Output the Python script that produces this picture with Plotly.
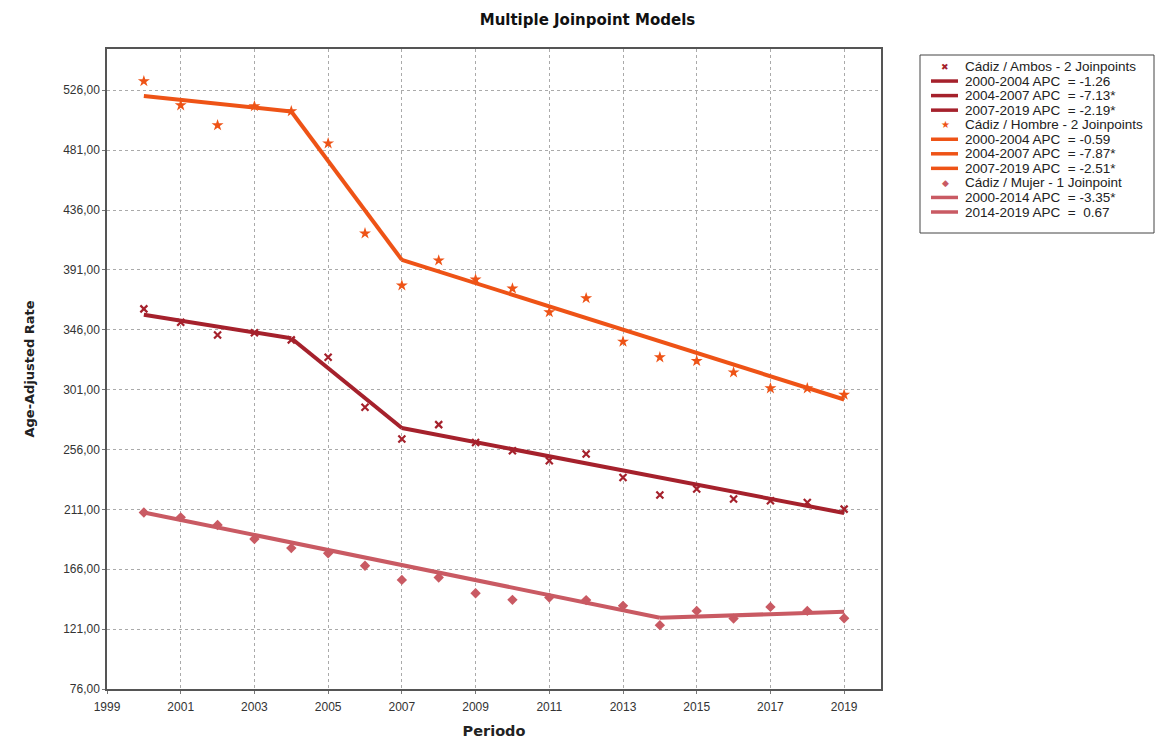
import plotly.graph_objects as go

years = list(range(2000, 2020))

ambos_obs = [361.7, 351.6, 342.0, 343.7, 338.4, 325.3, 287.7, 263.9, 274.7, 261.3,
             255.1, 247.6, 252.6, 235.0, 221.8, 226.3, 218.8, 217.5, 216.2, 211.2]
hombre_obs = [532.8, 514.7, 499.7, 514.0, 510.2, 486.1, 418.4, 379.3, 398.1, 383.8,
              377.0, 359.2, 369.7, 337.1, 325.3, 322.5, 314.0, 302.0, 302.0, 297.2]
mujer_obs = [208.7, 205.0, 199.2, 188.7, 181.9, 178.0, 168.6, 158.0, 159.8, 148.0,
             143.0, 144.7, 142.8, 138.5, 124.0, 134.7, 128.9, 137.7, 134.7, 129.2]

# fitted values at the joinpoints
ambos_jp_years = [2000, 2004, 2007, 2019]
ambos_jp_fit = [357.2, 339.6, 272.2, 208.3]
hombre_jp_years = [2000, 2004, 2007, 2019]
hombre_jp_fit = [521.7, 510.0, 398.5, 293.6]
mujer_jp_years = [2000, 2014, 2019]
mujer_jp_fit = [208.7, 129.6, 134.0]

group_names = ["Cádiz / Ambos - 2 Joinpoints", "Cádiz / Hombre - 2 Joinpoints",
               "Cádiz / Mujer - 1 Joinpoint"]
ambos_labels = ["2000-2004 APC  = -1.26", "2004-2007 APC  = -7.13*", "2007-2019 APC  = -2.19*"]
hombre_labels = ["2000-2004 APC  = -0.59", "2004-2007 APC  = -7.87*", "2007-2019 APC  = -2.51*"]
mujer_labels = ["2000-2014 APC  = -3.35*", "2014-2019 APC  =  0.67"]

y_ticks = [76, 121, 166, 211, 256, 301, 346, 391, 436, 481, 526]
y_ticktext = [f"{v},00" for v in y_ticks]
x_ticks = list(range(1999, 2020, 2))

C_AMBOS = "#A5212C"
C_HOMBRE = "#EE5316"
C_MUJER = "#C95A63"

fig = go.Figure()

groups = [
    (group_names[0], ambos_obs, "x-thin", 7, C_AMBOS, ambos_jp_years, ambos_jp_fit, ambos_labels, "✖", 9),
    (group_names[1], hombre_obs, "star", 9, C_HOMBRE, hombre_jp_years, hombre_jp_fit, hombre_labels, "★", 10),
    (group_names[2], mujer_obs, "diamond", 8, C_MUJER, mujer_jp_years, mujer_jp_fit, mujer_labels, "◆", 9),
]

for name, obs, symbol, msize, color, jp_years, jp_fit, labels, glyph, gsize in groups:
    mk = dict(symbol=symbol, size=msize, color=color)
    if symbol == "x-thin":
        mk["line"] = dict(width=2.2, color=color)
    fig.add_trace(go.Scatter(x=years, y=obs, mode="markers", name=name,
                             marker=mk, showlegend=False))
    for i, lab in enumerate(labels):
        fig.add_trace(go.Scatter(
            x=jp_years[i:i + 2], y=jp_fit[i:i + 2], mode="lines", name=lab,
            line=dict(color=color, width=4), showlegend=False,
        ))

# ---- manual legend box (paper coordinates) ----
PLOT_L, PLOT_R, PLOT_T, PLOT_B = 106, 880, 48, 688


def px(x):
    return (x - PLOT_L) / (PLOT_R - PLOT_L)


def py(y):
    return (PLOT_B - y) / (PLOT_B - PLOT_T)


fig.add_shape(type="rect", xref="paper", yref="paper",
              x0=px(919), x1=px(1153), y0=py(54), y1=py(232),
              line=dict(color="#444", width=1), fillcolor="white", layer="above")

row_y = 65.5
row_step = 14.55
LEG_FONT = dict(family="Liberation Sans, Arial, sans-serif", size=13.5, color="#222")
for name, obs, symbol, msize, color, jp_years, jp_fit, labels, glyph, gsize in groups:
    fig.add_annotation(xref="paper", yref="paper", x=px(944), y=py(row_y),
                       text=glyph, showarrow=False, xanchor="center", yanchor="middle",
                       font=dict(family="DejaVu Sans", size=gsize, color=color))
    fig.add_annotation(xref="paper", yref="paper", x=px(962), y=py(row_y),
                       text=name, showarrow=False, xanchor="left", yanchor="middle",
                       font=LEG_FONT)
    row_y += row_step
    for lab in labels:
        fig.add_shape(type="line", xref="paper", yref="paper",
                      x0=px(930), x1=px(957), y0=py(row_y), y1=py(row_y),
                      line=dict(color=color, width=3.5), layer="above")
        fig.add_annotation(xref="paper", yref="paper", x=px(962), y=py(row_y),
                           text=lab, showarrow=False, xanchor="left", yanchor="middle",
                           font=LEG_FONT)
        row_y += row_step

fig.update_layout(
    width=1173, height=740,
    margin=dict(l=99, r=300, t=41, b=59, autoexpand=False),
    paper_bgcolor="white", plot_bgcolor="white",
    font=dict(family="Liberation Sans, Arial, sans-serif", size=12, color="#333"),
    title=dict(text="<b>Multiple Joinpoint Models</b>", x=0.494, xref="container",
               y=0.984, yref="container", yanchor="middle",
               font=dict(family="DejaVu Sans, Verdana, sans-serif", size=15, color="#111")),
    showlegend=False,
    xaxis=dict(range=[1999, 2020], tickvals=x_ticks, ticktext=[str(v) for v in x_ticks],
               showgrid=True, gridcolor="#aaa", griddash="dot", gridwidth=1,
               showline=True, linecolor="#555", linewidth=1.5, mirror=True,
               ticks="outside", ticklen=3, tickcolor="#777", ticklabelstandoff=3,
               zeroline=False, automargin=False,
               title=dict(text="<b>Periodo</b>", standoff=13,
                          font=dict(family="DejaVu Sans, Verdana, sans-serif", size=14.5, color="#222"))),
    yaxis=dict(range=[76, 557], tickvals=y_ticks, ticktext=y_ticktext,
               showgrid=True, gridcolor="#aaa", griddash="dot", gridwidth=1,
               showline=True, linecolor="#555", linewidth=1.5, mirror=True,
               ticks="outside", ticklen=3, tickcolor="#777",
               zeroline=False, automargin=False,
               title=dict(text="<b>Age-Adjusted Rate</b>", standoff=26,
                          font=dict(family="DejaVu Sans, Verdana, sans-serif", size=13, color="#222"))),
)

fig.write_html("out.html")
